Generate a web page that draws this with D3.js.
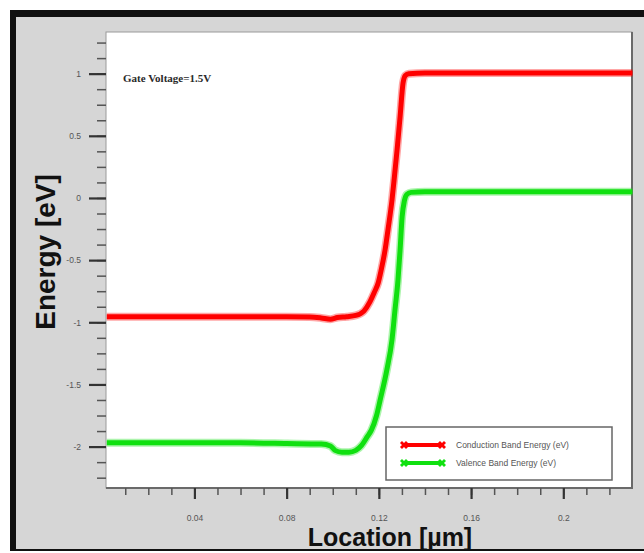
<!DOCTYPE html>
<html>
<head>
<meta charset="utf-8">
<script src="https://cdn.jsdelivr.net/npm/d3@7"></script>
<style>
  body { margin: 0; background: #fff; }
  svg text { font-family: "Liberation Sans", Arial, sans-serif; }
</style>
</head>
<body>
<div id="chart"></div>
<script>
// conduction band (red)
var condX = [0.002, 0.01, 0.02, 0.03, 0.04, 0.05, 0.06, 0.07, 0.08, 0.09, 0.095, 0.099, 0.102, 0.106, 0.110,
             0.1135, 0.116, 0.118, 0.1197, 0.121, 0.1227, 0.124, 0.1257, 0.1268, 0.1279, 0.1292, 0.1305,
             0.1315, 0.133, 0.14, 0.16, 0.18, 0.20, 0.22, 0.23];
var condE = [-0.955, -0.955, -0.955, -0.955, -0.955, -0.955, -0.955, -0.955, -0.955, -0.957, -0.965, -0.975, -0.962, -0.955, -0.945,
             -0.91, -0.84, -0.76, -0.684, -0.58, -0.418, -0.25, -0.016, 0.18, 0.386, 0.652, 0.925,
             0.985, 1.0, 1.005, 1.005, 1.005, 1.005, 1.005, 1.005];

// valence band (green)
var valX = [0.002, 0.02, 0.04, 0.06, 0.08, 0.095, 0.099, 0.101, 0.104, 0.107, 0.110, 0.1125, 0.115, 0.1167,
            0.119, 0.1205, 0.1235, 0.1257, 0.127, 0.1283, 0.1292, 0.1301, 0.1311, 0.1322, 0.134,
            0.14, 0.16, 0.18, 0.20, 0.22, 0.23];
var valE = [-1.97, -1.97, -1.97, -1.97, -1.975, -1.98, -1.995, -2.03, -2.045, -2.045, -2.03, -1.99, -1.92, -1.87,
            -1.75, -1.63, -1.38, -1.14, -0.90, -0.66, -0.42, -0.15, -0.02, 0.03, 0.045,
            0.05, 0.05, 0.05, 0.05, 0.05, 0.05];

// ticks
var yMajor = [-2, -1.5, -1, -0.5, 0, 0.5, 1];
var yLabels = ["-2", "-1.5", "-1", "-0.5", "0", "0.5", "1"];
var yMinor = d3.range(-2.25, 1.26, 0.125);
var xMajor = [0.04, 0.08, 0.12, 0.16, 0.2];
var xLabels = ["0.04", "0.08", "0.12", "0.16", "0.2"];
var xMinor = d3.range(1, 23).map(function(i){ return i / 100; });

var legendNames = ["Conduction Band Energy (eV)", "Valence Band Energy (eV)"];
var colors = ["#ff0000", "#10e010"];

var margin = {left: 106, right: 12, top: 32, bottom: 65};
var width = 644 - margin.left - margin.right,
	height = 553 - margin.top - margin.bottom;

var svg = d3.select("#chart").append("svg")
		.attr("width", 644)
		.attr("height", 553);

// outer frame
svg.append("rect")
	.attr("x", 10).attr("y", 10)
	.attr("width", 660).attr("height", 541)
	.attr("fill", "#111");
svg.append("rect")
	.attr("x", 16).attr("y", 17)
	.attr("width", 660).attr("height", 532)
	.attr("fill", "#d6d6d6");

var canvas = svg.append("g")
		.attr("transform", "translate(" + margin.left + "," + margin.top + ")");

// plot area
canvas.append("rect")
	.attr("width", width).attr("height", height)
	.attr("fill", "#fff")
	.attr("stroke", "#9a9a9a")
	.attr("stroke-width", 1);
canvas.append("path")
	.attr("d", "M" + width + ",0V" + height + "H0")
	.attr("fill", "none")
	.attr("stroke", "#6a6a6a")
	.attr("stroke-width", 2);

var x = d3.scaleLinear().domain([0.00165, 0.2298]).range([0, width]);
var y = d3.scaleLinear().domain([-2.333, 1.335]).range([height, 0]);

// y axis
var yMinorAxis = canvas.append("g")
	.call(d3.axisLeft(y).tickValues(yMinor).tickSize(9).tickFormat(""));
var yMajorAxis = canvas.append("g")
	.call(d3.axisLeft(y).tickValues(yMajor).tickSize(17).tickPadding(8)
		.tickFormat(function(d, i){ return yLabels[i]; }));

// x axis
var xMinorAxis = canvas.append("g")
	.attr("transform", "translate(0," + height + ")")
	.call(d3.axisBottom(x).tickValues(xMinor).tickSize(7).tickFormat(""));
var xMajorAxis = canvas.append("g")
	.attr("transform", "translate(0," + height + ")")
	.call(d3.axisBottom(x).tickValues(xMajor).tickSize(11).tickPadding(16)
		.tickFormat(function(d, i){ return xLabels[i]; }));

[yMinorAxis, yMajorAxis, xMinorAxis, xMajorAxis].forEach(function(g){
	g.select(".domain").remove();
	g.selectAll("line").attr("stroke", "#555").attr("stroke-width", 1.5);
	g.selectAll("text").attr("fill", "#555").attr("font-size", "8.5px");
});
yMajorAxis.selectAll("line").attr("stroke", "#333").attr("stroke-width", 2.2);
xMajorAxis.selectAll("line").attr("stroke", "#333").attr("stroke-width", 2.2);

// titles
svg.append("text")
	.attr("transform", "translate(55,252) rotate(-90)")
	.attr("text-anchor", "middle")
	.attr("font-size", "28px")
	.attr("font-weight", "bold")
	.attr("fill", "#111")
	.text("Energy [eV]");

svg.append("text")
	.attr("x", 390)
	.attr("y", 546)
	.attr("text-anchor", "middle")
	.attr("font-size", "25px")
	.attr("font-weight", "bold")
	.attr("fill", "#111")
	.text("Location [\u00b5m]");

canvas.append("text")
	.attr("x", 17)
	.attr("y", 50)
	.attr("font-size", "11px")
	.attr("font-weight", "bold")
	.style("font-family", "'Liberation Serif', 'Times New Roman', serif")
	.attr("fill", "#2a2a2a")
	.text("Gate Voltage=1.5V");

// curves
var series = [
	condX.map(function(d, i){ return {x: d, e: condE[i]}; }),
	valX.map(function(d, i){ return {x: d, e: valE[i]}; })
];

var line = d3.line()
	.x(function(d){ return x(d.x); })
	.y(function(d){ return y(d.e); })
	.curve(d3.curveMonotoneX);

series.forEach(function(s, k){
	canvas.append("path")
		.datum(s)
		.attr("d", line)
		.attr("fill", "none")
		.attr("stroke", colors[k])
		.attr("stroke-opacity", 0.35)
		.attr("stroke-width", 8)
		.attr("stroke-linejoin", "round");
	canvas.append("path")
		.datum(s)
		.attr("d", line)
		.attr("fill", "none")
		.attr("stroke", colors[k])
		.attr("stroke-width", 5)
		.attr("stroke-linejoin", "round");
});

// legend
var legend = svg.append("g")
	.attr("transform", "translate(386,427)");
legend.append("rect")
	.attr("width", 226).attr("height", 53)
	.attr("fill", "#fff")
	.attr("stroke", "#666")
	.attr("stroke-width", 1.5);

legendNames.forEach(function(name, i){
	var row = legend.append("g")
		.attr("transform", "translate(0," + (18 + i * 18) + ")");
	row.append("line")
		.attr("x1", 18).attr("x2", 56)
		.attr("stroke", colors[i])
		.attr("stroke-width", 4);
	[18, 56].forEach(function(cx){
		row.append("path")
			.attr("d", d3.symbol().type(d3.symbolCross).size(40))
			.attr("transform", "translate(" + cx + ",0) rotate(45)")
			.attr("fill", colors[i]);
	});
	row.append("text")
		.attr("x", 70)
		.attr("dy", "0.35em")
		.attr("font-size", "8.5px")
		.attr("fill", "#555")
		.text(name);
});
</script>
</body>
</html>
